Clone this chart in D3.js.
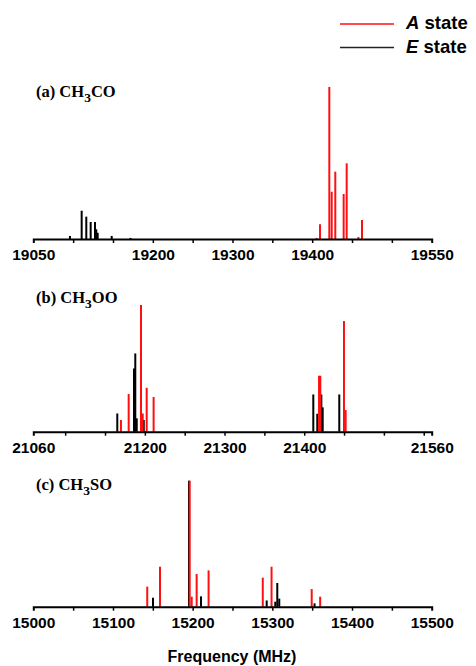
<!DOCTYPE html>
<html>
<head>
<meta charset="utf-8">
<script src="https://cdn.jsdelivr.net/npm/d3@7"></script>
<style>
  body { margin: 0; background: #fff; }
  .tick text { font-family: "Liberation Sans", Arial, sans-serif; font-weight: bold; font-size: 15.5px; fill: #000; }
  .ptitle { font-family: "Liberation Serif", "Times New Roman", serif; font-weight: bold; font-size: 16.5px; }
</style>
</head>
<body>
<svg id="vis" width="476" height="666"></svg>
<script>
// (a) CH3CO
var freqA_A = [19405.6, 19409.8, 19421.5, 19424.5, 19429, 19439.5, 19443.3, 19458, 19462.5];
var intA_A  = [0.7, 9.7, 100, 31.1, 44.3, 29.6, 49.8, 1.3, 12.5];
var freqA_E = [19096, 19110.7, 19116.5, 19122, 19127.4, 19129, 19130.8, 19148.4, 19172];
var intA_E  = [2.0, 18.6, 14.7, 11.2, 11.2, 6.4, 4.1, 2.0, 0.7];
var ticksA  = [19050, 19200, 19300, 19400, 19550];

// (b) CH3OO
var freqB_A = [21170, 21179.7, 21195.2, 21197.3, 21202.3, 21211, 21418.6, 21420.2, 21449.9, 21452];
var intB_A  = [7.7, 24.8, 83.4, 12, 28.9, 22.8, 36.8, 36.8, 72.8, 14.3];
var freqB_E = [21165.4, 21186.4, 21188, 21189.8, 21198.6, 21411.4, 21416.4, 21421.5, 21423.2, 21444];
var intB_E  = [12.0, 41.6, 51.5, 8.8, 7.7, 24.5, 11.8, 24.5, 16, 24.5];
var ticksB  = [21060, 21200, 21300, 21400, 21560];

// (c) CH3SO
var freqC_A = [15143, 15159, 15196.3, 15198.8, 15205, 15220, 15288, 15299, 15349.4, 15360];
var intC_A  = [13.2, 26.3, 82.9, 6.6, 21.5, 23.9, 19.1, 26.3, 11.6, 6.6];
var freqC_E = [15150.2, 15195.4, 15210.5, 15292.9, 15303.7, 15306.2, 15308.7, 15353];
var intC_E  = [5.9, 82.9, 6.8, 4.1, 3.3, 15.6, 5.3, 2.2];
var ticksC  = [15000, 15100, 15200, 15300, 15400, 15500];

var panels = [
  { name: "(a) CH", sub: "3", rest: "CO", domain: [19050, 19550], minor: d3.range(19100, 19550, 50),
    fa: freqA_A, ia: intA_A, fe: freqA_E, ie: intA_E, labels: ticksA, base: 239, titleY: 97 },
  { name: "(b) CH", sub: "3", rest: "OO", domain: [21060, 21560], minor: d3.range(21100, 21551, 50),
    fa: freqB_A, ia: intB_A, fe: freqB_E, ie: intB_E, labels: ticksB, base: 431.7, titleY: 303 },
  { name: "(c) CH", sub: "3", rest: "SO", domain: [15000, 15500], minor: d3.range(15050, 15500, 50),
    fa: freqC_A, ia: intC_A, fe: freqC_E, ie: intC_E, labels: ticksC, base: 606.7, titleY: 490 }
];

var svg = d3.select("#vis");
var left = 33.3, right = 431.7;
var yScale = d3.scaleLinear().domain([0, 100]).range([0, 152]);

panels.forEach(function(p) {
  var x = d3.scaleLinear().domain(p.domain).range([left, right]);
  var g = svg.append("g");

  // sticks: E state first, A state on top
  g.selectAll(".e")
    .data(d3.zip(p.fe, p.ie))
    .enter()
    .append("line")
    .attr("x1", d => x(d[0]))
    .attr("x2", d => x(d[0]))
    .attr("y1", p.base)
    .attr("y2", d => p.base - yScale(d[1]))
    .style("stroke", "#000")
    .style("stroke-width", "2px");

  g.selectAll(".a")
    .data(d3.zip(p.fa, p.ia))
    .enter()
    .append("line")
    .attr("x1", d => x(d[0]))
    .attr("x2", d => x(d[0]))
    .attr("y1", p.base)
    .attr("y2", d => p.base - yScale(d[1]))
    .style("stroke", "#ff1010")
    .style("stroke-width", "2px");

  // tick marks
  var tickAxis = g.append("g")
    .attr("transform", `translate(0, ${p.base})`)
    .call(d3.axisBottom(x).tickValues(p.minor).tickSize(4).tickSizeOuter(4).tickFormat(""));
  tickAxis.select(".domain").style("stroke-width", "2px");
  tickAxis.selectAll(".tick line").style("stroke-width", "1.5px");

  // labels
  var labAxis = g.append("g")
    .attr("transform", `translate(0, ${p.base})`)
    .call(d3.axisBottom(x).tickValues(p.labels).tickSize(0).tickPadding(10).tickFormat(d3.format("d")));
  labAxis.select(".domain").remove();

  var t = svg.append("text")
    .attr("class", "ptitle")
    .attr("x", 36)
    .attr("y", p.titleY);
  t.append("tspan").text(p.name);
  t.append("tspan").text(p.sub).attr("dy", 5).style("font-size", "13.5px");
  t.append("tspan").text(p.rest).attr("dy", -5);
});

// legend
var legend = [
  { label: "A", color: "#ff1010", y: 24 },
  { label: "E", color: "#222", y: 47.5 }
];
legend.forEach(function(l) {
  svg.append("line")
    .attr("x1", 340).attr("x2", 394)
    .attr("y1", l.y).attr("y2", l.y)
    .style("stroke", l.color)
    .style("stroke-width", "1.5px");
  var t = svg.append("text")
    .attr("x", 406)
    .attr("y", l.y + 5)
    .style("font-family", "Liberation Sans, Arial, sans-serif")
    .style("font-weight", "bold")
    .style("font-size", "18.5px");
  t.append("tspan").text(l.label).style("font-style", "italic");
  t.append("tspan").text(" state");
});

svg.append("text")
  .text("Frequency (MHz)")
  .attr("x", 232)
  .attr("y", 661.5)
  .attr("text-anchor", "middle")
  .style("font-family", "Liberation Sans, Arial, sans-serif")
  .style("font-weight", "bold")
  .style("font-size", "16px");
</script>
</body>
</html>
